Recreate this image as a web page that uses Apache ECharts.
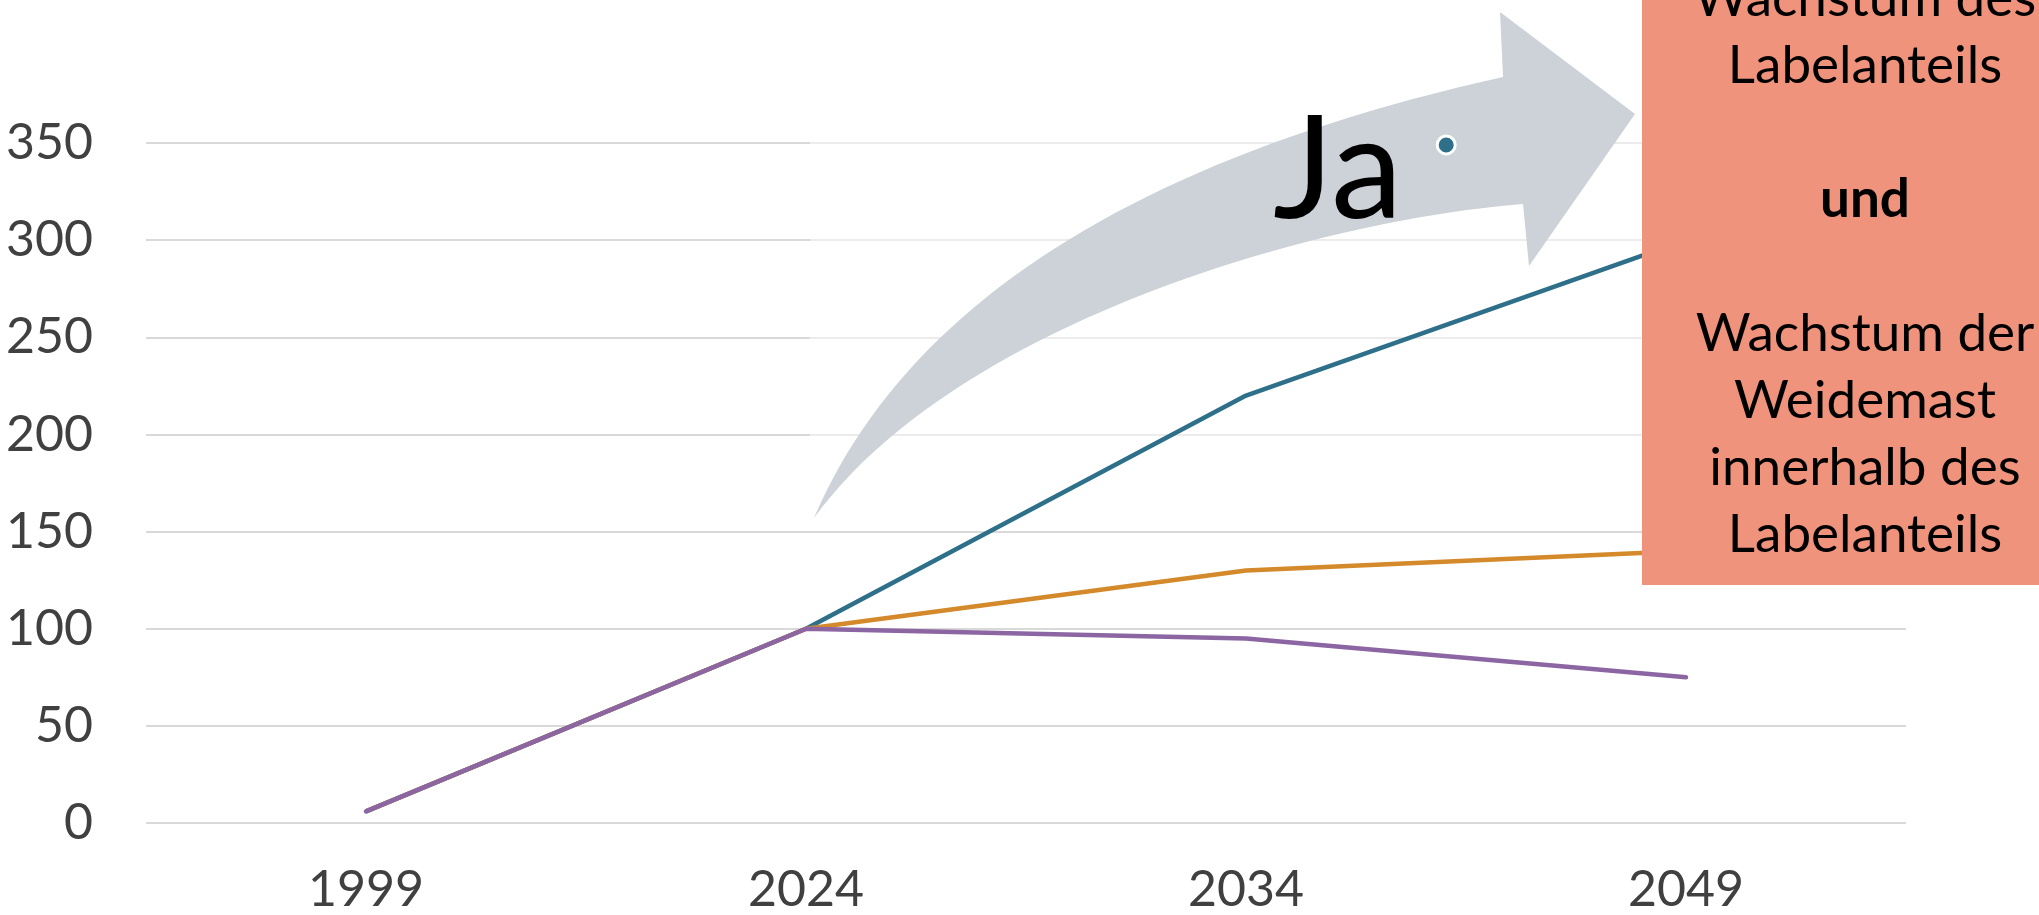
<!DOCTYPE html>
<html>
<head>
<meta charset="utf-8">
<script src="https://cdn.jsdelivr.net/npm/echarts@6/dist/echarts.min.js"></script>
<style>
  html, body { margin: 0; padding: 0; background: #ffffff; }
  #chart { width: 2039px; height: 915px; }
</style>
</head>
<body>
<div id="chart"></div>
<script>
// Jahre auf der x-Achse
const years = ['1999', '2024', '2034', '2049'];

// Indexwerte je Szenario
const wachstumBeides = [6, 100, 220, 300];
const wachstumLabel = [6, 100, 130, 140];
const ohneWachstum = [6, 100, 95, 75];

// Einzelner Marker (Position in Kategorie-Einheiten, Wert)
const markerPunkt = [[2.955, 349]];

// y-Achse
const yMin = 0;
const yMax = 350;
const yStep = 50;

// Textfeld rechts
const boxLines = ['Wachstum des', 'Labelanteils', '', '{b|und}', '', 'Wachstum der', 'Weidemast', 'innerhalb des', 'Labelanteils'];
const pfeilText = 'Ja';

const FONT = 'Lato, "Open Sans", sans-serif';

// Kurvenpunkte für den gebogenen Pfeil
function quad(p0, c, p1, n) {
  const pts = [];
  for (let i = 0; i <= n; i++) {
    const t = i / n, u = 1 - t;
    pts.push([u * u * p0[0] + 2 * u * t * c[0] + t * t * p1[0],
              u * u * p0[1] + 2 * u * t * c[1] + t * t * p1[1]]);
  }
  return pts;
}
function cubic(p0, c1, c2, p1, n) {
  const pts = [];
  for (let i = 0; i <= n; i++) {
    const t = i / n, u = 1 - t;
    const a = u * u * u, b = 3 * u * u * t, c = 3 * u * t * t, d = t * t * t;
    pts.push([a * p0[0] + b * c1[0] + c * c2[0] + d * p1[0],
              a * p0[1] + b * c1[1] + c * c2[1] + d * p1[1]]);
  }
  return pts;
}
const pfeilPunkte = []
  .concat(quad([814, 518], [950, 200], [1503, 77], 48))
  .concat([[1500, 12], [1635, 114], [1529, 266]])
  .concat(cubic([1523, 204], [1300, 222], [950, 330], [814, 518], 48));

const chart = echarts.init(document.getElementById('chart'), null, { renderer: 'canvas' });

chart.setOption({
  backgroundColor: '#ffffff',
  animation: false,
  grid: { left: 146, right: 133, top: 143, bottom: 89, containLabel: false },
  xAxis: [
    {
      type: 'category',
      data: years,
      boundaryGap: true,
      axisLine: { show: false },
      axisTick: { show: false },
      axisLabel: { color: '#404040', fontSize: 50, fontFamily: FONT, margin: 42 },
      splitLine: { show: false }
    },
    {
      type: 'value',
      min: 0,
      max: 4,
      show: false
    }
  ],
  yAxis: {
    type: 'value',
    min: yMin,
    max: yMax,
    interval: yStep,
    axisLine: { show: false },
    axisTick: { show: false },
    axisLabel: { color: '#404040', fontSize: 50, fontFamily: FONT, margin: 53 },
    splitLine: { show: true, lineStyle: { color: '#d9d9d9', width: 2 } }
  },
  graphic: [
    {
      type: 'rect',
      z: 1,
      shape: { x: 810, y: 0, width: 832, height: 470 },
      style: { fill: 'rgba(255,255,255,0.5)' },
      silent: true
    },
    {
      type: 'polygon',
      z: 1,
      shape: { points: pfeilPunkte },
      style: { fill: '#ccd2d7' },
      silent: true
    },
    {
      type: 'text',
      z: 4,
      x: 1273,
      y: 172,
      style: {
        text: pfeilText,
        fill: '#000000',
        font: '144px ' + FONT,
        align: 'left',
        verticalAlign: 'middle'
      },
      silent: true
    },
    {
      type: 'rect',
      z: 10,
      shape: { x: 1642, y: 0, width: 420, height: 585 },
      style: { fill: '#f0937c' },
      silent: true
    },
    {
      type: 'text',
      z: 11,
      x: 1865,
      y: -35,
      style: {
        text: boxLines.join('\n'),
        fill: '#000000',
        fontFamily: FONT,
        fontSize: 53,
        lineHeight: 67,
        align: 'center',
        verticalAlign: 'top',
        rich: {
          b: { fontFamily: FONT, fontSize: 53, fontWeight: 'bold', lineHeight: 67, fill: '#000000' }
        }
      },
      silent: true
    }
  ],
  series: [
    {
      name: 'Wachstum Label und Weidemast',
      type: 'line',
      data: wachstumBeides,
      symbol: 'none',
      z: 2,
      lineStyle: { color: '#2e6f8a', width: 4.5 },
      itemStyle: { color: '#2e6f8a' }
    },
    {
      name: 'Wachstum Label',
      type: 'line',
      data: wachstumLabel,
      symbol: 'none',
      z: 2,
      lineStyle: { color: '#d4892a', width: 4.5 },
      itemStyle: { color: '#d4892a' }
    },
    {
      name: 'Ohne Wachstum',
      type: 'line',
      data: ohneWachstum,
      symbol: 'none',
      z: 2,
      lineStyle: { color: '#8c65a3', width: 4.5, cap: 'round' },
      itemStyle: { color: '#8c65a3' }
    },
    {
      name: 'Marker',
      type: 'scatter',
      xAxisIndex: 1,
      data: markerPunkt,
      symbol: 'circle',
      symbolSize: 18,
      z: 3,
      itemStyle: { color: '#2e6f8a', borderColor: '#ffffff', borderWidth: 3, opacity: 1 }
    }
  ]
});
</script>
</body>
</html>
